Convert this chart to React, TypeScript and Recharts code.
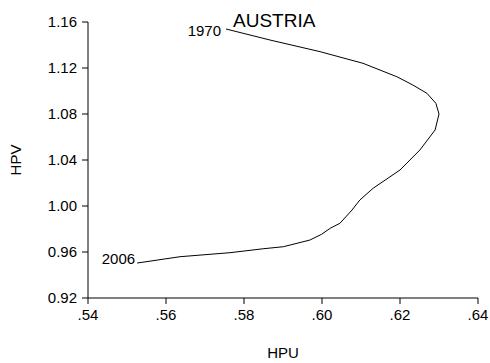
import React from 'react';
import { LineChart, Line, XAxis, YAxis, LabelList } from 'recharts';

// HPU / HPV path for Austria, read along the curve from 1970 to 2006
const hpu = [
  0.5754, 0.5867, 0.5995, 0.6105, 0.6192, 0.6233, 0.6269, 0.6292, 0.6300,
  0.6290, 0.6251, 0.6200, 0.6131, 0.6097, 0.6077, 0.6046, 0.6021, 0.5999,
  0.5969, 0.5901, 0.5849, 0.5764, 0.5636, 0.5526,
];
const hpv = [
  1.1539, 1.1443, 1.1342, 1.1241, 1.1124, 1.1052, 1.0980, 1.0893, 1.0800,
  1.0661, 1.0487, 1.0313, 1.0154, 1.0052, 0.9965, 0.9850, 0.9806, 0.9754,
  0.9704, 0.9646, 0.9628, 0.9594, 0.9559, 0.9504,
];
const startYear = '1970';
const endYear = '2006';

const xTicks = [0.54, 0.56, 0.58, 0.6, 0.62, 0.64];
const yTicks = [0.92, 0.96, 1.0, 1.04, 1.08, 1.12, 1.16];

const data = hpu.map((u, i) => ({ hpu: u, hpv: hpv[i] }));

const FONT = '"Liberation Sans", Arial, sans-serif';
const tickStyle = { fill: '#000', fontSize: 15, fontFamily: FONT };

const EndLabel = (props: any) => {
  const { x, y, index } = props;
  if (index === 0) {
    return (
      <text x={x - 5} y={y + 7} textAnchor="end" fontSize={15} fontFamily={FONT} fill="#000">
        {startYear}
      </text>
    );
  }
  if (index === data.length - 1) {
    return (
      <text x={x - 2} y={y + 1} textAnchor="end" fontSize={15} fontFamily={FONT} fill="#000">
        {endYear}
      </text>
    );
  }
  return null;
};

export default function App() {
  return (
    <div style={{ position: 'absolute', left: 0, top: 0, width: 490, height: 363, background: '#fff' }}>
      <LineChart width={490} height={363} data={data} margin={{ top: 22, right: 12, left: 0, bottom: 0 }}>
        <XAxis
          type="number"
          dataKey="hpu"
          domain={[0.54, 0.64]}
          ticks={xTicks}
          tickFormatter={(v: number) => v.toFixed(2).replace(/^0/, '')}
          tick={tickStyle}
          tickSize={6}
          tickMargin={5}
          height={65}
          axisLine={{ stroke: '#000' }}
          tickLine={{ stroke: '#000' }}
          label={{ value: 'HPU', position: 'insideBottom', offset: 5, fill: '#000', fontSize: 15, fontFamily: FONT }}
        />
        <YAxis
          type="number"
          domain={[0.92, 1.16]}
          ticks={yTicks}
          tickFormatter={(v: number) => v.toFixed(2)}
          tick={tickStyle}
          tickSize={6}
          tickMargin={5}
          width={88}
          axisLine={{ stroke: '#000' }}
          tickLine={{ stroke: '#000' }}
          label={{
            value: 'HPV',
            angle: -90,
            position: 'insideLeft',
            offset: 16,
            fill: '#000',
            fontSize: 15,
            fontFamily: FONT,
            style: { textAnchor: 'middle' },
          }}
        />
        <Line
          type="linear"
          dataKey="hpv"
          stroke="#000"
          strokeWidth={1}
          dot={false}
          activeDot={false}
          isAnimationActive={false}
        >
          <LabelList dataKey="hpv" content={EndLabel} />
        </Line>
      </LineChart>
      <div
        style={{
          position: 'absolute',
          left: 233,
          top: 11,
          fontFamily: FONT,
          fontSize: 19,
          lineHeight: 1,
          color: '#000',
        }}
      >
        AUSTRIA
      </div>
    </div>
  );
}
